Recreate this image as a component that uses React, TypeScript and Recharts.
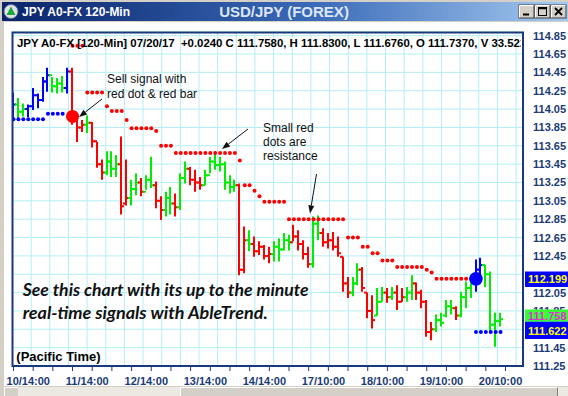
import React from 'react';
import { ComposedChart, Bar, Scatter, XAxis, YAxis, CartesianGrid } from 'recharts';

// 120-min bars, index 0 = first bar on screen
const highs = [
  114.23, 114.17, 114.11, 114.10, 114.28, 114.22, 114.40, 114.50, 114.40, 114.39,
  114.41, 114.50, 114.50, 113.95, 113.93, 113.98, 113.91, 113.69, 113.50, 113.59,
  113.59, 113.55, 113.75, 113.50, 113.28, 113.35, 113.30, 113.33, 113.53, 113.26,
  113.10, 113.15, 113.20, 113.13, 113.35, 113.48, 113.42, 113.39, 113.31, 113.39,
  113.53, 113.59, 113.53, 113.48, 113.33, 113.28, 113.24, 112.77, 112.73, 112.66,
  112.61, 112.57, 112.55, 112.61, 112.64, 112.70, 112.68, 112.79, 112.73, 112.62,
  112.55, 112.88, 112.89, 112.75, 112.70, 112.71, 112.66, 112.44, 112.22, 112.22,
  112.37, 112.33, 112.05, 112.02, 112.10, 112.11, 112.10, 112.11, 112.13, 112.10,
  112.11, 112.24, 112.16, 112.08, 111.97, 111.73, 111.81, 111.83, 111.97, 111.97,
  111.90, 112.06, 112.17, 112.24, 112.41, 112.43, 112.35, 112.28, 111.83, 111.83,
];
const lows = [
  113.93, 113.95, 113.97, 113.96, 114.04, 114.06, 114.13, 114.24, 114.23, 114.22,
  114.23, 114.22, 113.88, 113.69, 113.80, 113.79, 113.63, 113.41, 113.28, 113.33,
  113.31, 113.31, 112.90, 113.00, 113.00, 113.11, 113.10, 113.17, 113.19, 112.97,
  112.84, 112.88, 112.90, 112.88, 112.95, 113.24, 113.22, 113.15, 113.17, 113.22,
  113.35, 113.39, 113.37, 113.17, 113.13, 113.15, 112.24, 112.26, 112.50, 112.44,
  112.46, 112.41, 112.37, 112.39, 112.39, 112.51, 112.51, 112.61, 112.51, 112.41,
  112.32, 112.32, 112.62, 112.55, 112.53, 112.51, 112.44, 112.06, 111.99, 112.01,
  112.13, 112.06, 111.77, 111.66, 111.80, 111.95, 111.94, 111.97, 111.86, 111.95,
  111.95, 111.97, 111.97, 111.88, 111.57, 111.53, 111.62, 111.68, 111.78, 111.81,
  111.75, 111.78, 111.88, 111.99, 112.06, 112.22, 112.11, 111.62, 111.46, 111.68,
];
const opens = [
  113.97, 114.10, 114.02, 114.05, 114.08, 114.20, 114.15, 114.35, 114.42, 114.30,
  114.33, 114.28, 114.46, 113.93, 113.85, 113.88, 113.90, 113.70, 113.45, 113.36,
  113.48, 113.40, 113.45, 113.02, 113.08, 113.18, 113.25, 113.15, 113.28, 113.22,
  113.05, 112.95, 113.08, 113.02, 112.98, 113.30, 113.40, 113.28, 113.25, 113.22,
  113.33, 113.48, 113.44, 113.45, 113.25, 113.20, 113.22, 112.30, 112.62, 112.58,
  112.50, 112.55, 112.45, 112.47, 112.55, 112.52, 112.62, 112.60, 112.66, 112.58,
  112.47, 112.36, 112.80, 112.70, 112.60, 112.62, 112.55, 112.44, 112.15, 112.05,
  112.15, 112.30, 112.05, 111.85, 111.80, 111.95, 112.05, 112.00, 112.05, 111.95,
  112.00, 112.05, 112.15, 112.05, 111.95, 111.62, 111.65, 111.75, 111.80, 111.90,
  111.88, 111.80, 112.00, 112.10, 112.18, 112.30, 112.35, 112.25, 111.70, 111.74,
];
const closes = [
  114.10, 114.02, 114.05, 114.08, 114.20, 114.15, 114.35, 114.42, 114.30, 114.33,
  114.28, 114.46, 113.93, 113.85, 113.88, 113.90, 113.70, 113.45, 113.36, 113.48,
  113.40, 113.45, 112.99, 113.08, 113.18, 113.25, 113.15, 113.28, 113.22, 113.05,
  112.95, 113.08, 113.02, 112.98, 113.30, 113.40, 113.28, 113.25, 113.22, 113.33,
  113.48, 113.44, 113.45, 113.25, 113.20, 113.22, 112.30, 112.62, 112.58, 112.50,
  112.55, 112.45, 112.47, 112.55, 112.52, 112.62, 112.60, 112.66, 112.58, 112.47,
  112.36, 112.80, 112.70, 112.60, 112.62, 112.55, 112.48, 112.15, 112.05, 112.15,
  112.30, 112.10, 111.85, 111.75, 111.95, 112.05, 112.00, 112.05, 111.95, 112.00,
  112.05, 112.15, 112.05, 111.95, 111.62, 111.65, 111.75, 111.72, 111.90, 111.88,
  111.80, 112.00, 112.10, 112.18, 112.30, 112.35, 112.25, 111.70, 111.74, 111.76,
];
// bar colour per bar: b = blue, g = green, r = red
const trend = (
  'bggbbbbbgg' + 'gbrrrgrrrg' + 'ggrrggrggr' + 'rggrggrrrg' + 'ggggggrrgr' +
  'rrrggggrrr' + 'rggrrrrrrg' + 'grrrggrgrr' + 'ggrrrrgggg' + 'rgggbbgggg'
).split('');

// small red dots (resistance) [bar, level]
const resistance = [
  [12, 114.74], [13, 114.74], [14, 114.74],
  [15, 114.23], [16, 114.23], [17, 114.23], [18, 114.23],
  [19, 114.08], [20, 114.03], [21, 114.03], [22, 114.03], [23, 113.93],
  [24, 113.84], [25, 113.84], [26, 113.84], [27, 113.84], [28, 113.84], [29, 113.81],
  [30, 113.65], [31, 113.65], [32, 113.65],
  [33, 113.57], [34, 113.57], [35, 113.57], [36, 113.57], [37, 113.57], [38, 113.57], [39, 113.57],
  [40, 113.57], [41, 113.57], [42, 113.57], [43, 113.57], [44, 113.57], [45, 113.57],
  [46, 113.49], [47, 113.22], [48, 113.22], [49, 113.16], [50, 113.10],
  [51, 113.04], [52, 113.04], [53, 113.04], [54, 113.04], [55, 113.04],
  [56, 112.85], [57, 112.85], [58, 112.85], [59, 112.85], [60, 112.85], [61, 112.85],
  [62, 112.85], [63, 112.85], [64, 112.85], [65, 112.85], [66, 112.85], [67, 112.85],
  [68, 112.65], [69, 112.65], [70, 112.65], [71, 112.55], [72, 112.55], [73, 112.48], [74, 112.48],
  [75, 112.40], [76, 112.40], [77, 112.40],
  [78, 112.33], [79, 112.33], [80, 112.33], [81, 112.33], [82, 112.33], [83, 112.33],
  [84, 112.30], [85, 112.27],
  [86, 112.20], [87, 112.20], [88, 112.20], [89, 112.20], [90, 112.20], [91, 112.20], [92, 112.20], [93, 112.20],
];
// small blue dots (support) [bar, level]
const support = [
  [0, 113.94], [1, 113.94], [2, 113.94], [3, 113.94], [4, 113.94], [5, 113.94], [6, 113.94],
  [7, 114.0], [8, 114.0], [9, 114.0], [10, 114.0],
  [94, 111.62], [95, 111.62], [96, 111.62], [97, 111.62], [98, 111.62], [99, 111.62],
];
const sellSignal = [[12, 113.97]];
const buySignal = [[94, 112.2]];

const dateLabels = ['10/14:00', '11/14:00', '12/14:00', '13/14:00', '14/14:00', '17/10:00', '18/10:00', '19/10:00', '20/10:00'];
const dateLabelBars = [3, 15, 27, 39, 51, 63, 75, 87, 99];
const minorTickBars = [0, 4, 8, 12, 16, 20, 24, 28, 32, 36, 40, 44, 48, 52, 56, 60, 64, 68, 72, 76, 80, 84, 88, 92, 96, 100];
const priceTicks = [111.25, 111.45, 111.65, 111.85, 112.05, 112.25, 112.45, 112.65, 112.85, 113.05,
  113.25, 113.45, 113.65, 113.85, 114.05, 114.25, 114.45, 114.65, 114.85];
// labels hidden in the reference behind the price flags
const hiddenPriceLabels = [112.25, 111.65];

const COLORS: Record<string, string> = { b: '#0000ff', g: '#00ee00', r: '#ff0000' };
const NAVY = '#1b3a78';
const ARIAL = '"Liberation Sans", Arial, sans-serif';

const bars = highs.map((h, i) => ({
  i, range: [lows[i], h], h, l: lows[i], o: opens[i], c: closes[i], col: trend[i],
}));
const toPts = (arr: number[][]) => arr.map(([i, v]) => ({ i, v }));
const xTicks = Array.from(new Set([...minorTickBars, ...dateLabelBars])).sort((a, b) => a - b);

// plot box: x 12.5..523, y 32..366
const vGrid = Array.from({ length: 27 }, (_, k) => 12.5 + 18.65 * (k + 1));

function OhlcBar(props: any) {
  const { x, y, width, height, payload } = props;
  if (!payload) return null;
  const top = height < 0 ? y + height : y;
  const len = Math.abs(height);
  const cx = Math.round(x + width / 2);
  const span = payload.h - payload.l || 1;
  const at = (v: number) => top + ((payload.h - v) / span) * len;
  return (
    <g stroke={COLORS[payload.col]} strokeWidth={2}>
      <line x1={cx} x2={cx} y1={top} y2={top + len} />
      <line x1={cx - 3} x2={cx} y1={at(payload.o)} y2={at(payload.o)} />
      <line x1={cx} x2={cx + 3} y1={at(payload.c)} y2={at(payload.c)} />
    </g>
  );
}

function DateTick(props: any) {
  const { x, y, payload } = props;
  const v = payload.value;
  const k = dateLabelBars.indexOf(v);
  return (
    <g>
      {minorTickBars.includes(v) && <line x1={x} x2={x} y1={y} y2={y + 5} stroke={NAVY} strokeWidth={1} />}
      {k >= 0 && (
        <text x={x} y={y + 18.5} textAnchor="middle" fontFamily={ARIAL} fontWeight="bold" fontSize={11} fill={NAVY}>
          {dateLabels[k]}
        </text>
      )}
    </g>
  );
}

function PriceTick(props: any) {
  const { x, y, payload } = props;
  if (hiddenPriceLabels.includes(payload.value)) return <g />;
  return (
    <text x={x + 10} y={y + 4} fontFamily={ARIAL} fontWeight="bold" fontSize={11} fill={NAVY}>
      {Number(payload.value).toFixed(2)}
    </text>
  );
}

function Arrow({ x1, y1, x2, y2 }: { x1: number; y1: number; x2: number; y2: number }) {
  const dx = x2 - x1, dy = y2 - y1;
  const d = Math.hypot(dx, dy);
  const ux = dx / d, uy = dy / d;
  const bx = x2 - ux * 8, by = y2 - uy * 8;
  const pts = `${x2},${y2} ${bx - uy * 3},${by + ux * 3} ${bx + uy * 3},${by - ux * 3}`;
  return (
    <g>
      <line x1={x1} y1={y1} x2={bx} y2={by} stroke="#111" strokeWidth={1} />
      <polygon points={pts} fill="#111" />
    </g>
  );
}

export default function App() {
  return (
    <div style={{ position: 'relative', width: 568, height: 396, background: '#d4d0c8', overflow: 'hidden' }}>
      <style>{'body{margin:0}'}</style>
      {/* window chrome */}
      <div style={{ position: 'absolute', left: 2, top: 2, width: 566, height: 19, background: 'linear-gradient(to right, #0a246a 0%, #3a6ab8 55%, #a6caf0 100%)' }} />
      <div style={{ position: 'absolute', left: 4, top: 22, width: 564, height: 364, background: '#ffffff' }} />
      <div style={{ position: 'absolute', left: 4, top: 387, width: 564, height: 9, background: '#ece9e2' }} />
      <div style={{ position: 'absolute', left: 4, top: 387, width: 13, height: 9, background: '#d4d0c8', borderTop: '1px solid #fff', borderLeft: '1px solid #fff' }} />
      <div style={{ position: 'absolute', left: 180, top: 387, width: 376, height: 9, background: '#d4d0c8', borderTop: '1px solid #fff', borderLeft: '1px solid #fff', borderRight: '1px solid #808080' }} />

      <div style={{ position: 'absolute', left: 0, top: 0 }}>
        <ComposedChart width={568} height={396} data={bars} margin={{ top: 32, right: 0, bottom: 0, left: 12.5 }}>
          <CartesianGrid stroke="#b4eef4" strokeWidth={1} verticalPoints={vGrid} />
          <XAxis
            dataKey="i" type="number" domain={[-0.2, 103.56]} allowDataOverflow
            ticks={xTicks} interval={0} height={30} tickSize={0} tickMargin={0}
            axisLine={false} tickLine={false} tick={<DateTick />}
          />
          <YAxis
            orientation="right" type="number" domain={[111.25, 114.89]} allowDataOverflow
            ticks={priceTicks} interval={0} width={45} tickSize={0} tickMargin={0}
            axisLine={false} tickLine={false} tick={<PriceTick />}
          />
          <Bar dataKey="range" barSize={4} shape={(p: any) => <OhlcBar {...p} />} isAnimationActive={false} />
          <Scatter data={toPts(resistance)} dataKey="v" isAnimationActive={false}
            shape={(p: any) => <circle cx={p.cx} cy={p.cy} r={2} fill="#ff0000" />} />
          <Scatter data={toPts(support)} dataKey="v" isAnimationActive={false}
            shape={(p: any) => <circle cx={p.cx} cy={p.cy} r={2} fill="#0000ff" />} />
          <Scatter data={toPts(sellSignal)} dataKey="v" isAnimationActive={false}
            shape={(p: any) => <circle cx={p.cx} cy={p.cy} r={6.5} fill="#ff0000" />} />
          <Scatter data={toPts(buySignal)} dataKey="v" isAnimationActive={false}
            shape={(p: any) => <circle cx={p.cx} cy={p.cy} r={6.8} fill="#0000ff" />} />
        </ComposedChart>
      </div>

      {/* overlay: frame, header, notes, price flags, title bar text */}
      <svg width={568} height={396} style={{ position: 'absolute', left: 0, top: 0, pointerEvents: 'none' }}>
        <defs>
          <clipPath id="hdr"><rect x={13} y={33} width={508} height={20} /></clipPath>
        </defs>
        <rect x={12.5} y={32.5} width={510.5} height={333.5} fill="none" stroke="#17397d" strokeWidth={2} />
        <text x={17} y={47} clipPath="url(#hdr)" xmlSpace="preserve" style={{ whiteSpace: 'pre' }}
          fontFamily={ARIAL} fontWeight="bold" fontSize={11.4} fill="#000">
          {'JPY A0-FX [120-Min] 07/20/17  +0.0240 C 111.7580, H 111.8300, L 111.6760, O 111.7370, V 33.522'}
        </text>

        <g fontFamily={ARIAL} fontSize={12} fill="#111">
          <text x={107} y={82.5}>Sell signal with</text>
          <text x={107} y={97.5}>red dot &amp; red bar</text>
          <text x={263} y={131.5}>Small red</text>
          <text x={263} y={145.8}>dots are</text>
          <text x={263} y={160}>resistance</text>
        </g>
        <Arrow x1={102} y1={99} x2={79} y2={117} />
        <Arrow x1={248} y1={129} x2={222} y2={149} />
        <Arrow x1={316.5} y1={174} x2={310} y2={213.5} />

        <g fontFamily="Lato, 'Open Sans', sans-serif" fontWeight="bold" fontStyle="italic" fontSize={16.5} fill="#111">
          <text x={22.7} y={295.8} textLength={286} lengthAdjust="spacingAndGlyphs">See this chart with its up to the minute</text>
          <text x={22.7} y={318.8} textLength={245} lengthAdjust="spacingAndGlyphs">real-time signals with AbleTrend.</text>
        </g>
        <text x={16.3} y={360.5} fontFamily={ARIAL} fontWeight="bold" fontSize={13} fill="#000">(Pacific Time)</text>

        <g fontFamily={ARIAL} fontWeight="bold" fontSize={11}>
          <rect x={525} y={271.5} width={43} height={15.5} fill="#0000ff" />
          <text x={528} y={283.3} fill="#ffff00">112.199</text>
          <rect x={525} y={309.5} width={43} height={12.2} fill="#33ff33" />
          <text x={528} y={320.3} fill="#e030d8">111.758</text>
          <rect x={525} y={321.7} width={43} height={17.3} fill="#0000ff" />
          <text x={528} y={334.6} fill="#ffff00">111.622</text>
        </g>

        {/* title bar */}
        <circle cx={11} cy={11.5} r={7} fill="#dfe3ea" stroke="#5b6b88" strokeWidth={1} />
        <polygon points="11,6.5 15.5,15 6.5,15" fill="#1fa83a" />
        <text x={22} y={16} fontFamily={ARIAL} fontWeight="bold" fontSize={12} fill="#fff">JPY A0-FX 120-Min</text>
        <text x={284} y={17} textAnchor="middle" fontFamily={ARIAL} fontWeight="bold" fontSize={15} fill="#dde6f6">USD/JPY (FOREX)</text>
        {[519, 535, 551].map((bx, k) => (
          <g key={bx}>
            <rect x={bx} y={5} width={15} height={13} fill="#d4d0c8" stroke="#404040" strokeWidth={1} />
            <line x1={bx + 0.5} y1={5.5} x2={bx + 14.5} y2={5.5} stroke="#fff" />
            <line x1={bx + 0.5} y1={5.5} x2={bx + 0.5} y2={17.5} stroke="#fff" />
            {k === 0 && <line x1={bx + 4} x2={bx + 10} y1={14.5} y2={14.5} stroke="#000" strokeWidth={2} />}
            {k === 1 && <rect x={bx + 3.5} y={7.5} width={8} height={8} fill="none" stroke="#000" strokeWidth={1} />}
            {k === 1 && <line x1={bx + 3.5} x2={bx + 11.5} y1={8.5} y2={8.5} stroke="#000" strokeWidth={1.5} />}
            {k === 2 && <path d={`M${bx + 4},${8} L${bx + 11},${15} M${bx + 11},${8} L${bx + 4},${15}`} stroke="#000" strokeWidth={1.8} />}
          </g>
        ))}
      </svg>
    </div>
  );
}
